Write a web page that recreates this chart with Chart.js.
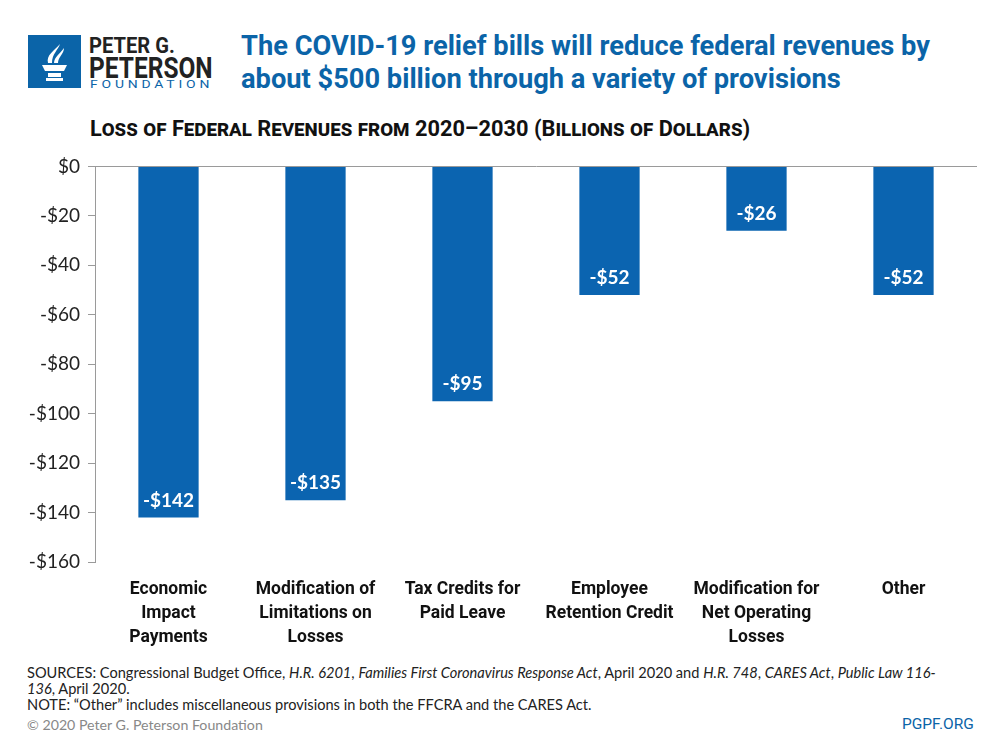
<!DOCTYPE html>
<html>
<head>
<meta charset="utf-8">
<script src="https://cdn.jsdelivr.net/npm/chart.js@4.4.1/dist/chart.umd.min.js"></script>
<style>
  body { margin: 0; background: #fff; width: 1000px; height: 750px; position: relative; overflow: hidden; }
  .abs { position: absolute; white-space: nowrap; transform-origin: 0 0; }
  .cond { font-family: Roboto, "Liberation Sans", sans-serif; font-weight: bold; }
  .title { left: 241px; font-size: 28px; color: #0b64a8; }
  #subtitle { left: 90px; top: 116px; font-size: 22px; font-variant: small-caps; color: #111; }
  .note { left: 27px; font-family: Lato, "Noto Sans", sans-serif; font-size: 14.6px; color: #222; }
  #copy { left: 27px; top: 716px; font-family: Lato, "Noto Sans", sans-serif; font-size: 14.2px; color: #888; }
  #site { left: 902px; top: 715px; font-family: Roboto, sans-serif; font-size: 15.5px; color: #0b64a8; }
  #chartBox { position: absolute; left: 0; top: 147px; width: 1000px; height: 503px; }
</style>
</head>
<body>
<svg class="abs" style="left:28px;top:35px" width="53" height="53" viewBox="0 0 53 53">
  <rect width="53" height="53" fill="#0b64a8"/>
  <path d="M14 30 L39 30 L36 36 L17 36 Z" fill="#fff"/>
  <rect x="20" y="38" width="13" height="4" fill="#fff"/>
  <rect x="18" y="43" width="17" height="3" fill="#fff"/>
  <path d="M20 28 C18 20 26 16 32 9 C30 15 24 19 24 28 Z" fill="#fff"/>
  <path d="M26 28 C26 22 32 19 36 13 C36 19 30 22 30 28 Z" fill="#fff"/>
</svg>
<div class="abs cond fit" data-w="86" style="left:89px;top:33px;font-size:22px;color:#222">PETER G.</div>
<div class="abs cond fit" data-w="124" style="left:89px;top:50px;font-size:30px;color:#222">PETERSON</div>
<div class="abs fit" data-w="123" style="left:90px;top:78px;font-family:Roboto,sans-serif;font-size:11px;letter-spacing:3px;color:#0b64a8">FOUNDATION</div>

<div id="title1" class="abs cond title" style="top:29px">The COVID-19 relief bills will reduce federal revenues by</div>
<div id="title2" class="abs cond title" style="top:62px">about $500 billion through a variety of provisions</div>
<div id="subtitle" class="abs cond fit" data-w="660">Loss of Federal Revenues from 2020–2030 (Billions of Dollars)</div>

<div id="chartBox"><canvas id="chart"></canvas></div>

<div class="abs note" style="top:664px">SOURCES: Congressional Budget Office, <i>H.R. 6201</i>, <i>Families First Coronavirus Response Act</i>, April 2020 and <i>H.R. 748</i>, <i>CARES Act</i>, <i>Public Law 116-</i></div>
<div class="abs note" style="top:680px"><i>136</i>, April 2020.</div>
<div class="abs note" style="top:696px">NOTE: “Other” includes miscellaneous provisions in both the FFCRA and the CARES Act.</div>
<div id="copy" class="abs">© 2020 Peter G. Peterson Foundation</div>
<div id="site" class="abs">PGPF.ORG</div>

<script>
const categories = [
  ['Economic', 'Impact', 'Payments'],
  ['Modification of', 'Limitations on', 'Losses'],
  ['Tax Credits for', 'Paid Leave'],
  ['Employee', 'Retention Credit'],
  ['Modification for', 'Net Operating', 'Losses'],
  ['Other']
];
const revenueLoss = [-142, -135, -95, -52, -26, -52];
const yTicks = [0, -20, -40, -60, -80, -100, -120, -140, -160];

const barBlue = '#0b64b0';
const axisGray = '#9a9a9a';

const fmtDollar = v => v === 0 ? '$0' : '-$' + Math.abs(v);

// squeeze headline text to the widths of the condensed original
document.querySelectorAll('.fit').forEach(el => {
  el.style.transform = 'scaleX(' + (el.dataset.w / el.offsetWidth) + ')';
});
const t1 = document.getElementById('title1');
const titleScale = 689 / t1.offsetWidth;
t1.style.transform = 'scaleX(' + titleScale + ')';
document.getElementById('title2').style.transform = 'scaleX(' + titleScale + ')';

const barLabels = {
  id: 'barLabels',
  afterDatasetsDraw(chart) {
    const ctx = chart.ctx;
    const meta = chart.getDatasetMeta(0);
    ctx.save();
    ctx.fillStyle = '#fff';
    ctx.font = 'bold 19px Lato, "Noto Sans", sans-serif';
    ctx.textAlign = 'center';
    ctx.textBaseline = 'middle';
    meta.data.forEach((bar, i) => {
      ctx.fillText(fmtDollar(revenueLoss[i]), bar.x, bar.y - 17);
    });
    ctx.restore();
  }
};

new Chart(document.getElementById('chart'), {
  type: 'bar',
  data: {
    labels: categories,
    datasets: [{
      data: revenueLoss,
      backgroundColor: barBlue,
      borderWidth: 0,
      categoryPercentage: 1,
      barPercentage: 0.41
    }]
  },
  options: {
    responsive: true,
    maintainAspectRatio: false,
    animation: false,
    layout: { padding: { top: 14, right: 23, left: 0, bottom: 0 } },
    plugins: { legend: { display: false }, tooltip: { enabled: false } },
    scales: {
      x: {
        grid: { display: false },
        border: { display: false },
        ticks: {
          color: '#111',
          padding: 8,
          maxRotation: 0,
          autoSkip: false,
          font: { family: 'Roboto, "Liberation Sans", sans-serif', size: 17.5, weight: 'bold', lineHeight: 1.37 }
        },
        afterFit(scale) { scale.height = 88; }
      },
      y: {
        min: -160,
        max: 0,
        afterBuildTicks(scale) { scale.ticks = yTicks.map(v => ({ value: v })); },
        grid: {
          color: ctx => ctx.tick && ctx.tick.value === 0 ? axisGray : 'rgba(0,0,0,0)',
          tickColor: axisGray,
          tickLength: 7
        },
        border: { display: true, color: axisGray },
        ticks: {
          color: '#222',
          padding: 8,
          font: { family: 'Lato, "Noto Sans", sans-serif', size: 19 },
          callback: v => fmtDollar(v)
        },
        afterFit(scale) { scale.width = 95; }
      }
    }
  },
  plugins: [barLabels]
});
</script>
</body>
</html>
